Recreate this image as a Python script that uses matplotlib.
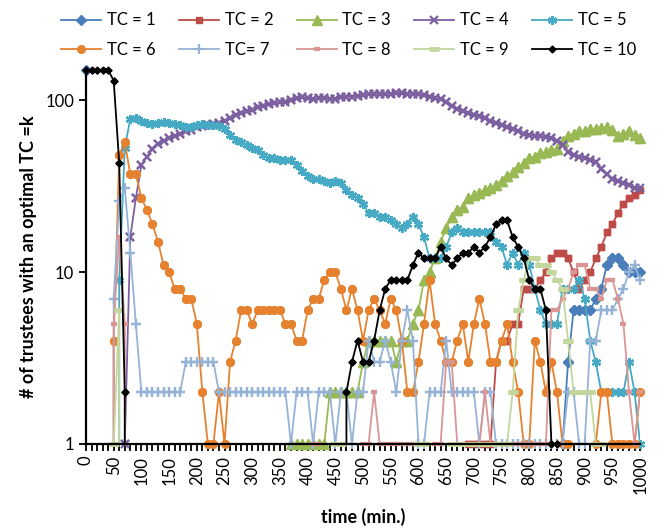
import numpy as np
import matplotlib
matplotlib.use('agg')
import matplotlib.pyplot as plt
from matplotlib.ticker import MultipleLocator, NullLocator

plt.rcParams['font.family'] = ['Lato', 'DejaVu Sans']

# time axis (categories, every 10 min)
time = list(range(0, 1001, 10))

# number of trustees per optimal TC (0 = not plotted)
tc1 = [150, 0, 0, 0, 0, 0, 0, 0, 0, 0,
       0, 0, 0, 0, 0, 0, 0, 0, 0, 0,
       0, 0, 0, 0, 0, 0, 0, 0, 0, 0,
       0, 0, 0, 0, 0, 0, 0, 0, 0, 0,
       0, 0, 0, 0, 0, 0, 0, 0, 0, 0,
       0, 0, 0, 0, 0, 0, 0, 0, 0, 0,
       0, 0, 0, 0, 0, 0, 0, 0, 0, 0,
       0, 0, 0, 0, 0, 0, 0, 0, 0, 0,
       0, 0, 0, 0, 0, 0, 1, 3, 6, 6,
       6, 6, 7, 8, 11, 12, 12, 11, 10, 10,
       10]
tc2 = [0, 0, 0, 0, 0, 0, 0, 0, 0, 0,
       0, 0, 0, 0, 0, 0, 0, 0, 0, 0,
       0, 0, 0, 0, 0, 0, 0, 0, 0, 0,
       0, 0, 0, 0, 0, 0, 0, 0, 0, 0,
       0, 0, 0, 0, 0, 0, 0, 0, 0, 0,
       0, 0, 0, 0, 0, 0, 0, 0, 0, 0,
       0, 0, 0, 0, 0, 0, 0, 0, 0, 1,
       1, 1, 1, 1, 3, 4, 4, 5, 5, 8,
       8, 8, 9, 10, 12, 13, 13, 12, 10, 8,
       9, 10, 12, 14, 17, 19, 22, 25, 27, 28,
       30]
tc3 = [0, 0, 0, 0, 0, 0, 0, 0, 0, 0,
       0, 0, 0, 0, 0, 0, 0, 0, 0, 0,
       0, 0, 0, 0, 0, 0, 0, 0, 0, 0,
       0, 0, 0, 0, 0, 0, 0, 1, 1, 1,
       1, 1, 1, 1, 2, 2, 2, 2, 2, 2,
       3, 4, 4, 4, 4, 4, 3, 4, 4, 5,
       6, 9, 10, 12, 15, 18, 21, 23, 24, 27,
       28, 29, 30, 31, 32, 34, 36, 38, 41, 43,
       46, 47, 49, 50, 51, 52, 58, 62, 64, 66,
       66, 68, 68, 69, 70, 67, 62, 64, 66, 63,
       60]
tc4 = [0, 0, 0, 0, 0, 0, 0, 1, 16, 27,
       42, 47, 52, 56, 58, 60, 62, 64, 66, 67,
       70, 71, 72, 73, 74, 76, 79, 82, 84, 86,
       88, 91, 93, 95, 96, 97, 98, 100, 103, 104,
       103, 102, 103, 103, 102, 102, 104, 105, 105, 106,
       107, 108, 109, 109, 108, 109, 110, 110, 109, 109,
       108, 107, 105, 103, 101, 97, 92, 89, 87, 84,
       82, 81, 79, 76, 74, 72, 70, 68, 66, 64,
       63, 62, 62, 61, 60, 58, 55, 50, 48, 47,
       46, 45, 44, 40, 37, 35, 34, 33, 32, 31,
       31]
tc5 = [0, 0, 0, 0, 0, 0, 9, 53, 78, 79,
       76, 74, 73, 74, 75, 74, 73, 72, 70, 70,
       72, 73, 72, 72, 71, 68, 63, 59, 57, 55,
       53, 51, 48, 46, 46, 45, 45, 45, 42, 39,
       36, 35, 35, 34, 33, 34, 33, 30, 28, 27,
       25, 22, 22, 21, 21, 20, 19, 18, 19, 21,
       19, 16, 12, 12, 12, 14, 17, 18, 17, 17,
       17, 17, 17, 17, 15, 14, 11, 13, 11, 13,
       11, 8, 6, 5, 5, 5, 8, 8, 8, 9,
       7, 4, 3, 2, 2, 2, 2, 2, 3, 2,
       1]
tc6 = [0, 0, 0, 0, 0, 4, 48, 57, 37, 37,
       27, 23, 19, 15, 11, 10, 8, 8, 7, 7,
       5, 2, 1, 1, 2, 1, 3, 4, 6, 6,
       5, 6, 6, 6, 6, 6, 5, 5, 4, 4,
       6, 7, 7, 9, 10, 10, 8, 6, 8, 6,
       4, 6, 7, 6, 5, 7, 6, 4, 2, 2,
       3, 5, 9, 5, 4, 3, 3, 4, 5, 3,
       5, 7, 5, 3, 3, 4, 5, 3, 2, 1,
       1, 4, 3, 2, 3, 2, 1, 1, 0, 0,
       0, 0, 1, 2, 2, 1, 1, 1, 1, 1,
       2]
tc7 = [0, 0, 0, 0, 0, 7, 26, 31, 13, 5,
       2, 2, 2, 2, 2, 2, 2, 2, 3, 3,
       3, 3, 3, 3, 2, 2, 2, 2, 2, 2,
       2, 2, 2, 2, 2, 2, 2, 1, 2, 2,
       2, 1, 2, 2, 2, 1, 2, 2, 1, 2,
       2, 4, 3, 3, 4, 3, 2, 4, 6, 4,
       1, 1, 2, 2, 2, 4, 2, 2, 2, 2,
       2, 1, 2, 2, 1, 1, 1, 1, 1, 1,
       1, 1, 1, 1, 1, 1, 1, 2, 2, 1,
       1, 4, 4, 6, 6, 6, 7, 8, 10, 11,
       9]
tc8 = [0, 0, 0, 0, 0, 5, 16, 5, 0, 0,
       0, 0, 0, 0, 0, 0, 0, 0, 0, 0,
       0, 0, 0, 0, 0, 0, 0, 0, 0, 0,
       0, 0, 0, 0, 0, 0, 0, 0, 0, 0,
       0, 1, 1, 0, 0, 0, 0, 0, 0, 0,
       1, 1, 2, 1, 1, 1, 1, 1, 1, 1,
       1, 0, 0, 1, 1, 3, 3, 1, 1, 1,
       1, 1, 2, 1, 1, 1, 1, 1, 1, 1,
       1, 1, 1, 1, 6, 6, 7, 8, 10, 11,
       11, 8, 8, 7, 9, 9, 7, 5, 2, 1,
       2]
tc9 = [0, 0, 0, 0, 0, 1, 6, 0, 0, 0,
       0, 0, 0, 0, 0, 0, 0, 0, 0, 0,
       0, 0, 0, 0, 0, 0, 0, 0, 0, 0,
       0, 0, 0, 0, 0, 0, 0, 0, 0, 0,
       0, 0, 0, 0, 0, 1, 1, 0, 0, 0,
       0, 0, 0, 0, 0, 0, 0, 0, 0, 0,
       1, 1, 0, 0, 0, 0, 1, 1, 1, 1,
       1, 1, 1, 1, 1, 1, 1, 2, 6, 9,
       12, 12, 11, 11, 10, 9, 8, 4, 2, 2,
       2, 2, 1, 1, 0, 0, 0, 0, 0, 0,
       0]
tc10 = [150, 150, 150, 150, 150, 130, 43, 2, 0, 0,
        0, 0, 0, 0, 0, 0, 0, 0, 0, 0,
        0, 0, 0, 0, 0, 0, 0, 0, 0, 0,
        0, 0, 0, 0, 0, 0, 0, 0, 0, 0,
        0, 0, 0, 0, 0, 0, 0, 2, 3, 4,
        3, 3, 4, 6, 8, 9, 9, 9, 9, 11,
        13, 12, 12, 12, 14, 12, 11, 12, 13, 13,
        14, 13, 14, 16, 19, 20, 20, 16, 14, 12,
        9, 8, 8, 6, 1, 1, 0, 0, 0, 0,
        0, 0, 0, 0, 0, 0, 0, 0, 0, 0,
        0]

labels = ['TC = 1', 'TC = 2', 'TC = 3', 'TC = 4', 'TC = 5',
          'TC = 6', 'TC= 7', 'TC = 8', 'TC = 9', 'TC = 10']
data = [tc1, tc2, tc3, tc4, tc5, tc6, tc7, tc8, tc9, tc10]
colors = ['#4A7EBB', '#BE4B48', '#98B954', '#7D60A0', '#46AAC5',
          '#E6822F', '#95B3D7', '#D99694', '#C3D69B', '#000000']
markers = ['D', 's', '^', 'x', (6, 2, 0), 'o', '+', '_', '_', 'D']
msizes = [5, 5, 6.5, 5.5, 6.5, 5.5, 7, 5, 7, 3.5]
mews = [1, 1, 1, 1.6, 1.6, 1, 1.6, 3, 3.5, 1]

fig = plt.figure(figsize=(6.64, 5.30), dpi=100)
ax = fig.add_axes([0.1295, 0.1623, 0.8345, 0.7057])

handles = []
for lab, vals, c, m, ms, mw in zip(labels, data, colors, markers, msizes, mews):
    y = np.array(vals, dtype=float)
    h, = ax.plot(time, y, color=c, lw=1.3, marker=m, ms=ms, mew=mw,
                 mec=c, mfc=c, label=lab)
    # markers drawn again unclipped so points on the axis show fully
    ax.plot(time, np.where(y > 0, y, np.nan), ls='none', marker=m, ms=ms,
            mew=mw, mec=c, mfc=c, clip_on=False)
    handles.append(h)

ax.set_yscale('log', nonpositive='clip')
ax.set_ylim(1, 150)
ax.set_xlim(0, 1000)
ax.set_yticks([1, 10, 100], ['1', '10', '100'])
ax.yaxis.set_minor_locator(NullLocator())
ax.set_xticks(range(0, 1001, 50))
ax.xaxis.set_minor_locator(MultipleLocator(10))
ax.tick_params(axis='x', which='both', direction='out', length=5, width=1.3,
               labelrotation=90, labelsize=12)
ax.tick_params(axis='y', direction='out', length=5, width=1.3, labelsize=12)
for s in ['top', 'right']:
    ax.spines[s].set_visible(False)
for s in ['left', 'bottom']:
    ax.spines[s].set_linewidth(1.6)

ax.set_xlabel('time (min.)', fontsize=13, fontweight='bold', labelpad=10)
ax.set_ylabel('# of trustees with an optimal TC =k', fontsize=13,
              fontweight='bold', labelpad=6)

# legend rows: TC 1-5 then TC 6-10
order = [0, 5, 1, 6, 2, 7, 3, 8, 4, 9]
fig.legend([handles[i] for i in order], [labels[i] for i in order],
           ncol=5, loc='upper center', bbox_to_anchor=(0.525, 1.005),
           frameon=False, fontsize=12, handlelength=2.4, handletextpad=0.35,
           columnspacing=1.4, labelspacing=0.8)

plt.savefig('out.png', dpi=100)
plt.close()
